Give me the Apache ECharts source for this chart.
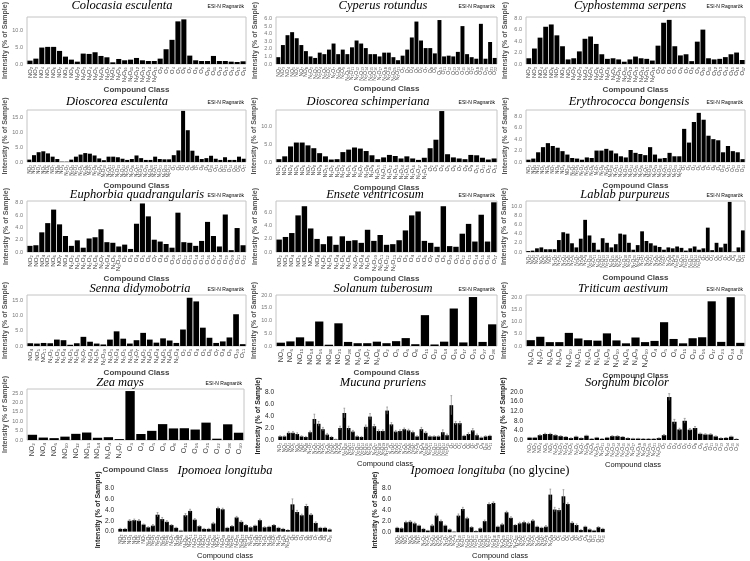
<!DOCTYPE html>
<html>
<head>
<meta charset="utf-8">
<script src="https://cdn.jsdelivr.net/npm/echarts@6/dist/echarts.min.js"></script>
<style>
html,body{margin:0;padding:0;background:#fff}
#main{width:750px;height:561px}
</style>
</head>
<body>
<div id="main"></div>
<script>
// ---- data ----
var catColocasia = 'NO2 NO3 NO4 NO5 NO6 NO7 NO8 NO9 N2O2 N2O3 N2O4 N2O5 N2O6 N2O7 N2O8 N2O9 N2O10 N2O11 N2O12 N2O13 N2O14 N2O15 O2 O3 O4 O5 O6 O7 O8 O9 O10 O11 O12 O13 O14 O15 O16'.split(' ');
var valColocasia = [1.0,1.6,4.9,5.1,5.1,3.9,2.2,1.3, 0.7,3.1,3.0,3.5,2.4,2.0,0.5,1.5,1.1,1.3,1.8,1.1,0.9,0.9, 1.6,4.4,7.2,12.7,13.3,2.5,1.1,0.9,0.9,2.4,0.9,0.9,0.7,0.6,0.8];

var catCyperus = 'NO2 NO3 NO4 NO5 NO6 NO7 NO8 N2O2 N2O3 N2O4 N2O5 N2O6 N2O7 N2O8 N2O9 N2O10 N2O11 N2O12 N2O13 N2O14 N2O15 N2O16 N2O17 N2O18 N2O19 N2O20 N2O21 O2 O3 O4 O5 O6 O7 O8 O9 O10 O11 O12 O13 O14 O15 O16 O17 O18 O19 O20 O21 O22'.split(' ');
var valCyperus = [0.9,2.5,3.8,4.2,3.4,2.5,1.7, 1.0,0.8,1.5,1.3,1.9,2.7,1.3,1.9,1.3,2.2,3.1,2.7,2.1,1.3,1.3,1.0,1.5,1.5,0.9,0.5, 1.1,1.9,3.5,5.6,3.1,2.1,2.1,1.4,5.8,1.0,1.1,1.0,1.6,5.0,1.3,0.9,0.7,5.3,0.7,2.9,0.8];

var catCyphostemma = 'NO2 NO3 NO4 NO5 NO6 NO7 NO8 NO9 N2O2 N2O3 N2O4 N2O5 N2O6 N2O7 N2O8 N2O9 N2O10 N2O11 N2O12 N2O13 N2O14 N2O15 N2O16 O2 O3 O4 O5 O6 O7 O8 O9 O10 O11 O12 O13 O14 O15 O16 O17'.split(' ');
var valCyphostemma = [1.0,2.7,4.6,6.5,6.9,5.0,3.1,0.8, 1.0,2.2,4.4,4.8,3.5,1.7,0.9,1.0,0.8,0.4,0.8,1.3,1.0,0.9,0.6, 3.2,7.2,7.7,3.1,1.5,1.7,0.5,3.9,6.0,1.0,0.8,0.9,1.2,1.7,2.0,0.7];

var catDioEsc = 'NO2 NO3 NO4 NO5 NO6 NO7 NO8 NO9 N2O2 N2O3 N2O4 N2O5 N2O6 N2O7 N2O8 N2O9 N2O10 N2O11 N2O12 N2O13 N2O14 N2O15 N2O16 N2O17 N2O18 N2O19 N2O20 N2O21 N2O22 N2O23 N2O24 O2 O3 O4 O5 O6 O7 O8 O9 O10 O11 O12 O13 O14 O15 O16 O17'.split(' ');
var valDioEsc = [0.8,2.3,3.3,3.6,2.9,1.8,1.0,0.1, 0.1,0.8,1.8,2.5,3.0,2.8,2.2,1.2,0.6,1.8,1.8,1.6,1.1,0.7,1.0,2.2,1.3,0.7,0.7,1.8,1.0,0.9,0.9, 2.3,3.9,17.2,10.7,3.8,2.1,1.0,1.3,2.1,1.1,0.7,1.6,0.7,0.7,1.8,1.1];

var catDioSch = 'NO2 NO3 NO4 NO5 NO6 NO7 NO8 NO9 NO10 N2O2 N2O3 N2O4 N2O5 N2O6 N2O7 N2O8 N2O9 N2O10 N2O11 N2O12 N2O13 N2O14 N2O15 N2O16 N2O17 N2O18 O2 O3 O4 O5 O6 O7 O8 O9 O10 O11 O12 O13'.split(' ');
var valDioSch = [0.8,1.6,4.4,5.5,5.5,4.7,3.9,2.5,1.6, 0.7,0.8,2.8,3.5,4.1,3.8,3.1,1.9,0.8,1.3,2.0,1.7,1.0,1.6,1.0,0.6,1.2, 3.9,6.3,14.4,2.2,1.3,1.0,0.8,2.0,1.9,1.2,0.7,1.0];

var catErythro = 'NO2 NO3 NO4 NO5 NO6 NO7 NO8 NO9 NO10 N2O2 N2O3 N2O4 N2O5 N2O6 N2O7 N2O8 N2O9 N2O10 N2O11 N2O12 N2O13 N2O14 N2O15 N2O16 N2O17 N2O18 N2O19 N2O20 N2O21 N2O22 N2O23 N2O24 O2 O3 O4 O5 O6 O7 O8 O9 O10 O11 O12 O13 O14'.split(' ');
var valErythro = [0.4,0.6,1.7,2.6,3.3,2.8,2.5,1.9,1.3, 0.7,0.6,0.4,0.8,0.7,2.0,2.0,2.3,2.0,1.5,1.0,0.8,2.1,1.6,1.4,1.2,2.6,1.3,0.6,0.7,1.6,1.0,1.0, 5.8,3.4,7.0,8.6,7.4,4.6,4.0,3.8,1.7,2.8,1.9,1.7,0.5];

var catEuphorbia = 'NO2 NO3 NO4 NO5 NO6 NO7 NO8 N2O2 N2O3 N2O4 N2O5 N2O6 N2O7 N2O8 N2O9 N2O10 O2 O3 O4 O5 O6 O7 O8 O9 O10 O11 O12 O13 O14 O15 O16 O17 O18 O19 O20 O21 O22'.split(' ');
var valEuphorbia = [1.0,1.1,3.2,4.7,6.9,4.5,2.6, 1.0,1.9,0.7,2.2,2.4,3.7,1.6,1.5,0.9, 1.2,0.5,4.6,7.9,5.8,2.0,1.7,1.3,0.7,6.4,1.6,1.5,1.0,1.8,4.9,2.6,0.9,6.1,0.3,3.9,1.1];

var catEnsete = 'NO2 NO3 NO4 NO5 NO6 NO7 NO8 N2O2 N2O3 N2O4 N2O5 N2O6 N2O7 N2O8 N2O9 N2O10 N2O11 N2O12 N2O13 O2 O3 O4 O5 O6 O7 O8 O9 O10 O11 O12 O13 O14 O15 O16 O17'.split(' ');
var valEnsete = [1.9,2.3,2.9,5.6,7.0,3.6,2.0, 1.2,2.4,1.1,2.4,1.7,1.8,1.4,3.4,1.7,2.6,1.1,1.2, 1.8,3.3,5.6,6.2,1.7,1.4,0.8,7.0,0.9,0.8,2.8,4.3,1.6,5.7,1.6,7.6];

var catLablab = 'NO2 NO3 NO4 NO5 NO6 NO7 N2O2 N2O3 N2O4 N2O5 N2O6 N2O7 N2O8 N2O9 N2O10 N2O11 N2O12 N2O13 N2O14 N2O15 N2O16 N2O17 N2O18 N2O19 N2O20 N2O21 N3O2 N3O3 N3O4 N3O5 N3O6 N3O7 N3O8 N3O9 N3O10 N3O11 N3O12 N3O13 N3O14 N3O15 O2 O3 O4 O5 O6 O7 O8 O9 O10 O11'.split(' ');
var valLablab = [0.2,0.3,0.8,1.0,0.6,0.6, 0.6,2.6,4.3,4.0,1.9,1.0,2.9,7.0,3.6,2.0,0.5,3.0,2.0,1.0,1.7,4.0,3.8,2.0,0.5,1.5, 4.5,2.4,1.9,1.4,1.1,0.5,1.0,0.8,1.2,0.9,0.3,0.8,1.2,0.5, 0.8,5.3,0.4,2.0,1.0,1.8,10.9,0.1,1.0,4.7];

var catSenna = 'NO4 NO5 NO11 N2O2 N2O3 N2O4 N2O5 N2O6 N2O7 N2O8 N2O9 N2O10 N3O3 N3O4 N3O5 N3O6 N3O7 N4O2 N4O3 N4O4 N4O5 N4O6 N5O4 O2 O3 O4 O5 O6 O7 O8 O9 O10 O11'.split(' ');
var valSenna = [0.9,0.8,1.0,0.9,2.1,1.9,0.4,0.9,3.0,1.4,0.8,0.5,2.1,4.8,2.4,0.8,1.9,4.3,2.1,1.1,2.5,1.8,1.0,5.4,15.8,14.6,6.0,2.7,1.0,1.5,2.8,10.4,0.6];

var catSolanum = 'NO5 NO6 NO11 NO14 NO16 NO18 NO21 NO28 N2O6 N2O7 N2O8 O2 O5 O6 O8 O11 O12 O14 O16 O17 O21 O27 O28'.split(' ');
var valSolanum = [1.3,1.8,3.4,1.8,9.6,0.5,8.9,1.6,1.1,1.1,1.7,1.1,1.9,3.1,0.7,12.1,0.6,1.7,14.7,1.4,19.2,1.6,8.5];

var catTriticum = 'N2O6 N2O7 N2O8 N2O9 N2O10 N2O11 N3O6 N3O8 N3O9 N3O10 N4O6 N4O9 N4O10 O4 O5 O6 O11 O12 O16 O17 O23 O24 O28'.split(' ');
var valTriticum = [2.4,3.8,1.6,1.6,5.4,3.1,2.4,2.2,5.2,2.3,1.1,3.5,1.6,2.1,9.8,2.9,1.1,3.2,3.6,18.4,1.7,20.1,1.3];

var catZea = 'NO2 NO4 NO6 NO10 NO12 NO13 NO14 N2O4 N2O7 O3 O4 O5 O6 O8 O11 O16 O21 O22 O28 O30'.split(' ');
var valZea = [2.8,1.3,1.0,1.8,3.3,4.0,1.2,1.5,0.5,26.2,3.2,4.9,8.5,6.2,6.3,5.6,9.3,0.7,8.4,3.9];

var catMucuna = 'NO2 NO3 NO4 NO5 NO6 NO7 NO8 N2O2 N2O3 N2O4 N2O5 N2O6 N2O7 N2O8 N2O9 N2O10 N2O11 N2O12 N2O13 N2O14 N2O15 N2O16 N2O17 N2O18 N2O19 N2O20 N3O2 N3O3 N3O4 N3O5 N3O6 N3O7 N3O8 N3O9 N3O10 N3O11 N3O12 N3O13 N3O14 N3O15 O2 O3 O4 O5 O6 O7 O8 O9 O10 O11'.split(' ');
var valMucuna = [0.6,0.6,1.2,1.2,1.0,0.6,0.5,1.3,3.5,2.7, 1.8,0.9,0.5,0.1,2.0,4.5,2.0,1.4,0.6,0.5, 2.2,3.9,2.3,1.5,1.5,4.9,2.6,1.4,1.5,1.8, 1.6,1.3,0.6,1.8,1.2,0.6,0.6,0.6,1.3,0.8, 5.8,2.8,2.8,0.7,1.0,1.6,0.8,0.4,0.6,0.7];
var errMucuna = [0.1,0.1,0.2,0.2,0.2,0.1,0.1,0.2,0.8,0.4, 0.3,0.2,0.1,0.05,0.3,0.8,0.3,0.2,0.1,0.1, 0.3,0.5,0.3,0.2,0.2,0.6,0.3,0.2,0.2,0.2, 0.2,0.2,0.1,0.3,0.2,0.1,0.1,0.1,0.4,0.2, 1.6,0.3,0.3,0.1,0.2,0.3,0.2,0.1,0.1,0.1];

var catSorghum = 'NO2 NO3 NO4 NO5 NO6 N2O2 N2O3 N2O4 N2O5 N2O6 N2O7 N2O8 N2O9 N2O10 N2O11 N2O12 N2O13 N2O14 N2O15 N2O16 N2O17 N2O18 N2O19 N2O20 N2O21 N2O22 O2 O3 O4 O5 O6 O7 O8 O9 O10 O11 O12 O13 O14 O15 O16'.split(' ');
var valSorghum = [1.0,1.0,2.0,2.5,2.5,2.0,1.6,1.3,0.8,1.4, 0.8,1.8,0.5,1.0,0.5,1.0,1.6,1.6,1.3,0.8, 0.6,0.6,0.5,0.5,0.5,0.8,2.0,17.9,7.6,4.4, 8.0,4.3,5.0,2.6,2.3,2.3,1.5,0.8,0.9,1.4, 0.4];
var errSorghum = [0.1,0.1,0.2,0.3,0.3,0.2,0.2,0.1,0.1,0.2, 0.1,0.2,0.1,0.1,0.1,0.1,0.2,0.2,0.1,0.1, 0.1,0.1,0.1,0.1,0.1,0.1,0.3,1.4,1.0,0.5, 1.0,0.5,0.6,0.3,0.3,0.3,0.2,0.1,0.1,0.2, 0.1];

var catIpomoea = 'NO2 NO3 NO4 NO5 NO6 NO7 N2O2 N2O3 N2O4 N2O5 N2O6 N2O7 N2O8 N2O9 N2O10 N2O11 N2O12 N2O13 N2O14 N2O15 N2O16 N2O17 N2O18 N2O19 N2O20 N2O21 N2O22 N2O23 N3O2 N3O3 N3O4 N3O5 N3O6 N3O7 N3O8 N3O9 N3O10 O2 O3 O4 O5 O6 O7 O8 O9 O10'.split(' ');
var valIpomoea = [0.5,0.5,2.0,2.1,2.0,1.3,0.8,1.1,3.1,2.3, 1.8,1.2,0.7,0.2,3.0,3.8,2.2,1.0,0.5,0.5, 1.5,4.3,4.1,0.7,1.0,2.6,1.8,1.2,0.8,1.1, 2.1,0.8,0.9,1.2,0.7,0.5,0.3,5.0,3.6,3.0, 4.7,3.1,1.6,0.7,0.7,0.4];
var errIpomoea = [0.1,0.1,0.2,0.2,0.2,0.1,0.1,0.2,0.4,0.3, 0.2,0.1,0.1,0.05,0.3,0.3,0.2,0.1,0.1,0.1, 0.2,0.2,0.2,0.1,0.1,0.2,0.2,0.1,0.1,0.1, 0.2,0.1,0.1,0.1,0.1,0.1,0.05,1.0,0.3,0.2, 0.3,0.2,0.2,0.1,0.1,0.1];

var catIpomoeaNG = 'NO2 NO3 NO4 NO5 NO6 NO7 N2O2 N2O3 N2O4 N2O5 N2O6 N2O7 N2O8 N2O9 N2O10 N2O11 N2O12 N2O13 N2O14 N2O15 N2O16 N2O17 N2O18 N2O19 N2O20 N2O21 N2O22 N2O23 N3O2 N3O3 N3O4 N3O5 N3O6 N3O7 N3O8 N3O9 O2 O3 O4 O5 O6 O7 O8 O9 O10 O11 O12 O13'.split(' ');
var valIpomoeaNG = [0.8,0.7,1.8,1.9,1.6,1.2,0.6,0.3,1.2,3.0, 2.0,1.2,0.5,0.1,3.0,4.2,2.5,0.9,0.2,0.7, 2.0,5.1,5.3,1.0,1.4,3.6,2.6,1.3,1.6,1.8, 1.6,2.1,1.0,0.8,1.0,6.8,4.1,4.0,6.5,5.1, 1.7,1.3,0.4,1.0,0.5,0.3,0.9,0.6];
var errIpomoeaNG = [0.1,0.1,0.2,0.2,0.2,0.1,0.1,0.05,0.2,0.3, 0.2,0.1,0.1,0.05,0.3,0.3,0.2,0.1,0.05,0.1, 0.2,0.2,0.2,0.1,0.2,0.2,0.2,0.1,0.2,0.2, 0.2,0.2,0.1,0.1,0.2,1.0,0.4,0.3,1.2,0.2, 0.2,0.2,0.1,0.1,0.1,0.05,0.1,0.1];

// ---- layout of the panels ----
// box: [left, top, width, height]; tx/ty: title centre; cc: y of x-axis name centre
var panels = [
  {title:'Colocasia esculenta', cats:catColocasia, vals:valColocasia, max:14, step:5, box:[27,14,219,50], tx:122, ty:6, cc:89, lab:5.8},
  {title:'Cyperus rotundus', cats:catCyperus, vals:valCyperus, max:6.2, step:1, box:[276,14,221,50], tx:383, ty:6, cc:89, lab:5.2},
  {title:'Cyphostemma serpens', cats:catCyphostemma, vals:valCyphostemma, max:8.2, step:2, box:[526,14,219,50], tx:630, ty:6, cc:89, lab:5.8},
  {title:'Dioscorea esculenta', cats:catDioEsc, vals:valDioEsc, max:17.5, step:5, box:[27,110,219,52], tx:117, ty:102, cc:186, lab:4.7},
  {title:'Dioscorea schimperiana', cats:catDioSch, vals:valDioSch, max:14.7, step:5, box:[276,110,221,52], tx:368, ty:102, cc:186, lab:5.5},
  {title:'Erythrococca bongensis', cats:catErythro, vals:valErythro, max:9.1, step:2, box:[526,110,219,52], tx:629, ty:102, cc:186, lab:4.7},
  {title:'Euphorbia quadrangularis', cats:catEuphorbia, vals:valEuphorbia, max:8.3, step:2, box:[27,201,219,51], tx:137, ty:195, cc:278, lab:6.2},
  {title:'Ensete ventricosum', cats:catEnsete, vals:valEnsete, max:7.8, step:2, box:[276,201,221,51], tx:375, ty:195, cc:278, lab:6.2},
  {title:'Lablab purpureus', cats:catLablab, vals:valLablab, max:11.1, step:2, box:[526,201,219,51], tx:625, ty:195, cc:278, lab:4.8},
  {title:'Senna didymobotria', cats:catSenna, vals:valSenna, max:16.7, step:5, box:[27,295,219,51], tx:140, ty:289, cc:372, lab:6.2},
  {title:'Solanum tuberosum', cats:catSolanum, vals:valSolanum, max:20, step:5, box:[276,295,221,51], tx:383, ty:289, cc:372, lab:7},
  {title:'Triticum aestivum', cats:catTriticum, vals:valTriticum, max:21, step:5, box:[526,295,219,51], tx:623, ty:289, cc:372, lab:7},
  {title:'Zea mays', cats:catZea, vals:valZea, max:27.3, step:5, box:[27,389,217,51], tx:120, ty:383, cc:470, lab:7},
  {title:'Mucuna pruriens', cats:catMucuna, vals:valMucuna, errs:errMucuna, max:8, step:2, box:[278,392,214,48], tx:383, ty:383, cc:461, lab:4.8, plain:true},
  {title:'Sorghum bicolor', cats:catSorghum, vals:valSorghum, errs:errSorghum, max:20, step:4, box:[527,392,212,48], tx:627, ty:383, cc:461, lab:5.2, plain:true},
  {title:'Ipomoea longituba', cats:catIpomoea, vals:valIpomoea, errs:errIpomoea, max:8, step:2, box:[118,488,214,48], tx:225, ty:471, cc:554, lab:5, plain:true},
  {title:'Ipomoea longituba', note:'(no glycine)', cats:catIpomoeaNG, vals:valIpomoeaNG, errs:errIpomoeaNG, max:8, step:2, box:[395,488,210,48], tx:490, ty:471, cc:554, lab:4.8, plain:true}
];

var SUB = '\u2080\u2081\u2082\u2083\u2084\u2085\u2086\u2087\u2088\u2089';
function sub(s) { return s.replace(/[0-9]/g, function (d) { return SUB.charAt(+d); }); }

var myChart = echarts.init(document.getElementById('main'), null, {renderer: 'canvas'});

var option = {animation: false, backgroundColor: '#fff', grid: [], xAxis: [], yAxis: [], series: [], graphic: []};

panels.forEach(function (p, i) {
  var b = p.box;
  option.grid.push({left: b[0], top: b[1], width: b[2], height: b[3], show: !p.plain,
    borderColor: '#c4c4c4', borderWidth: 1});
  option.xAxis.push({
    type: 'category', gridIndex: i, data: p.cats,
    axisLine: {show: false}, axisTick: {show: false},
    axisLabel: {interval: 0, rotate: 90, fontSize: p.lab, color: '#444', margin: 3,
      fontFamily: 'Liberation Sans', formatter: sub},
    name: p.plain ? 'Compound class' : 'Compound Class', nameLocation: 'middle',
    nameGap: p.cc - (b[1] + b[3]) - 4,
    nameTextStyle: {fontSize: p.plain ? 7.5 : 8, fontWeight: p.plain ? 'normal' : 'bold',
      color: p.plain ? '#111' : '#444', fontFamily: 'Liberation Sans'}
  });
  option.yAxis.push({
    type: 'value', gridIndex: i, min: 0, max: p.max, interval: p.step,
    splitLine: {show: false}, axisLine: {show: false}, axisTick: {show: false},
    axisLabel: {fontSize: p.plain ? 6.5 : 5.5, color: p.plain ? '#222' : '#777', margin: 4,
      fontFamily: 'Liberation Sans', showMaxLabel: p.max % p.step === 0,
      formatter: function (v) { return v.toFixed(1); }},
    name: 'Intensity (% of Sample)', nameLocation: 'middle', nameRotate: 90,
    nameGap: p.plain ? 15 : 17,
    nameTextStyle: {fontSize: 7, fontWeight: 'bold', color: p.plain ? '#222' : '#555', fontFamily: 'Liberation Sans'}
  });
  option.series.push({
    type: 'bar', xAxisIndex: i, yAxisIndex: i, data: p.vals,
    barCategoryGap: '14%', itemStyle: {color: '#000'}
  });
  if (p.errs) {
    option.series.push({
      type: 'custom', xAxisIndex: i, yAxisIndex: i,
      data: p.vals.map(function (v, j) { return [j, v, p.errs[j]]; }),
      renderItem: function (params, api) {
        var x = api.value(0), v = api.value(1), e = api.value(2);
        var p0 = api.coord([x, v - e]), p1 = api.coord([x, v + e]);
        var w = api.size([1, 0])[0] * 0.2;
        var st = {stroke: '#888', lineWidth: 0.7};
        return {type: 'group', children: [
          {type: 'line', shape: {x1: p0[0], y1: p0[1], x2: p1[0], y2: p1[1]}, style: st},
          {type: 'line', shape: {x1: p1[0] - w, y1: p1[1], x2: p1[0] + w, y2: p1[1]}, style: st}
        ]};
      },
      z: 3
    });
  }
  // title
  option.graphic.push({
    type: 'text', x: p.tx, y: p.ty, z: 10,
    style: p.note ? {
      text: '{i|' + p.title + '} {n|' + p.note + '}',
      align: 'center', verticalAlign: 'middle',
      rich: {
        i: {font: 'italic 12.5px "Liberation Serif"', fill: '#000'},
        n: {font: '12.5px "Liberation Serif"', fill: '#000'}
      }
    } : {
      text: p.title, align: 'center', verticalAlign: 'middle',
      font: 'italic 12.5px "Liberation Serif"', fill: '#000'
    }
  });
  if (!p.plain) {
    option.graphic.push({
      type: 'text', x: b[0] + b[2] - 2, y: p.ty + 1, z: 10,
      style: {text: 'ESI-N Ragnar\u00f6k', align: 'right', verticalAlign: 'middle',
        font: '5px "Liberation Sans"', fill: '#000'}
    });
  }
});

myChart.setOption(option);
</script>
</body>
</html>
